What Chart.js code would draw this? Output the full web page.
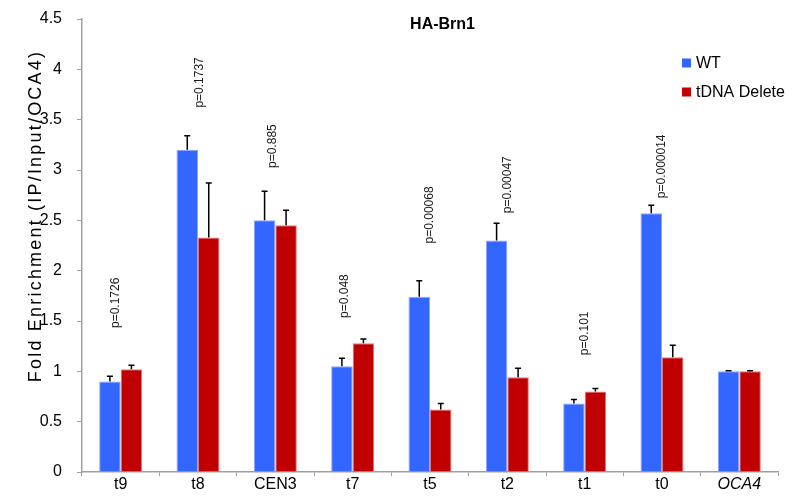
<!DOCTYPE html>
<html>
<head>
<meta charset="utf-8">
<script src="https://cdn.jsdelivr.net/npm/chart.js@4"></script>
<style>
html,body{margin:0;padding:0;background:#fff;}
#wrap{width:793px;height:498px;}
</style>
</head>
<body>
<div id="wrap"><canvas id="c" width="793" height="498"></canvas></div>
<script>
const categories = ['t9','t8','CEN3','t7','t5','t2','t1','t0','OCA4'];
const wtValues = [0.90, 3.20, 2.50, 1.05, 1.74, 2.30, 0.68, 2.57, 1.00];
const wtErrors = [0.05, 0.14, 0.29, 0.08, 0.16, 0.17, 0.04, 0.08, 0.005];
const delValues = [1.02, 2.33, 2.45, 1.28, 0.62, 0.94, 0.80, 1.14, 1.00];
const delErrors = [0.04, 0.54, 0.15, 0.04, 0.06, 0.09, 0.03, 0.12, 0.005];
const pLabels = ['p=0.1726','p=0.1737','p=0.885','p=0.048','p=0.00068','p=0.00047','p=0.101','p=0.000014',''];
const pLabelAnchor = [1.43, 3.62, 3.02, 1.53, 2.27, 2.57, 1.16, 2.72, null];
const pLabelShift = [-0.07, 0.02, -0.03, -0.1, 0, 0, 0, 0, 0];
const yTicks = [0, 0.5, 1, 1.5, 2, 2.5, 3, 3.5, 4, 4.5];

const FONT = '"Liberation Sans", Arial, sans-serif';

const extrasPlugin = {
  id: 'extras',
  afterDatasetsDraw(chart) {
    const ctx = chart.ctx;
    const y = chart.scales.y;
    const x = chart.scales.x;
    const errs = [wtErrors, delErrors];
    const vals = [wtValues, delValues];
    ctx.save();
    ctx.strokeStyle = '#000';
    ctx.lineWidth = 1.5;
    chart.data.datasets.forEach((ds, di) => {
      const meta = chart.getDatasetMeta(di);
      meta.data.forEach((bar, i) => {
        const top = y.getPixelForValue(vals[di][i] + errs[di][i]);
        ctx.beginPath();
        ctx.moveTo(bar.x, bar.y);
        ctx.lineTo(bar.x, top);
        ctx.moveTo(bar.x - 3, top);
        ctx.lineTo(bar.x + 3, top);
        ctx.stroke();
      });
    });
    // p-value labels
    ctx.fillStyle = '#1a1a1a';
    ctx.font = '12px ' + FONT;
    ctx.textAlign = 'left';
    ctx.textBaseline = 'middle';
    pLabels.forEach((t, i) => {
      if (!t) return;
      const px = x.getPixelForValue(i + pLabelShift[i]);
      const py = y.getPixelForValue(pLabelAnchor[i]);
      ctx.save();
      ctx.translate(px, py);
      ctx.rotate(-Math.PI / 2);
      ctx.fillText(t, 0, 0);
      ctx.restore();
    });
    ctx.restore();
  },
  afterDraw(chart) {
    const ctx = chart.ctx;
    const ca = chart.chartArea;
    ctx.save();
    // title
    ctx.fillStyle = '#000';
    ctx.font = 'bold 16px ' + FONT;
    ctx.textAlign = 'center';
    ctx.textBaseline = 'middle';
    ctx.fillText('HA-Brn1', ca.left + (ca.right - ca.left) * 0.518, 25);
    // legend
    ctx.font = '16px ' + FONT;
    ctx.textAlign = 'left';
    chart.data.datasets.forEach((ds, i) => {
      const ly = 63 + i * 29;
      ctx.fillStyle = ds.backgroundColor;
      ctx.fillRect(682, ly - 4.5, 9, 9);
      ctx.fillStyle = '#000';
      ctx.fillText(ds.label, 696, ly + 1);
    });
    // y axis title
    ctx.save();
    ctx.translate(36, 216);
    ctx.rotate(-Math.PI / 2);
    ctx.font = '18px ' + FONT;
    ctx.textAlign = 'center';
    ctx.textBaseline = 'middle';
    ctx.fillStyle = '#000';
    if ('letterSpacing' in ctx) ctx.letterSpacing = '2.2px';
    ctx.fillText('Fold Enrichment (IP/Input/OCA4)', 0, 0);
    ctx.restore();
    ctx.restore();
  }
};

new Chart(document.getElementById('c'), {
  type: 'bar',
  data: {
    labels: categories,
    datasets: [
      { label: 'WT', data: wtValues, backgroundColor: '#3366FF', borderColor: '#8aa6ff', borderWidth: 1 },
      { label: 'tDNA Delete', data: delValues, backgroundColor: '#C00000', borderColor: '#e07a7a', borderWidth: 1 }
    ]
  },
  options: {
    responsive: false,
    animation: false,
    devicePixelRatio: 1,
    categoryPercentage: 0.556,
    barPercentage: 1,
    layout: { autoPadding: false, padding: { top: 19, right: 15, left: 0, bottom: 0 } },
    plugins: { legend: { display: false }, tooltip: { enabled: false }, title: { display: false } },
    scales: {
      x: {
        offset: true,
        grid: { display: true, offset: true, drawOnChartArea: false, drawTicks: true, tickLength: 4, color: '#a0a0a0' },
        border: { display: true, color: '#a0a0a0', width: 1.5 },
        ticks: {
          color: '#000',
          padding: -1,
          font: (c) => ({ family: FONT, size: 16, style: (c.index === 8 ? 'italic' : 'normal') })
        },
        afterFit(s) { s.height = 26; s.paddingLeft = 0; s.paddingRight = 0; }
      },
      y: {
        min: 0, max: 4.5,
        afterBuildTicks(s) { s.ticks = yTicks.map(v => ({ value: v })); },
        grid: { display: true, drawOnChartArea: false, drawTicks: true, tickLength: 5, color: '#a0a0a0' },
        border: { display: true, color: '#a0a0a0', width: 1.5 },
        ticks: { color: '#000', padding: 15, font: { family: FONT, size: 16 }, callback: (v) => String(+v) },
        afterFit(s) { s.width = 82; s.paddingTop = 0; s.paddingBottom = 0; }
      }
    }
  },
  plugins: [extrasPlugin]
});
</script>
</body>
</html>
